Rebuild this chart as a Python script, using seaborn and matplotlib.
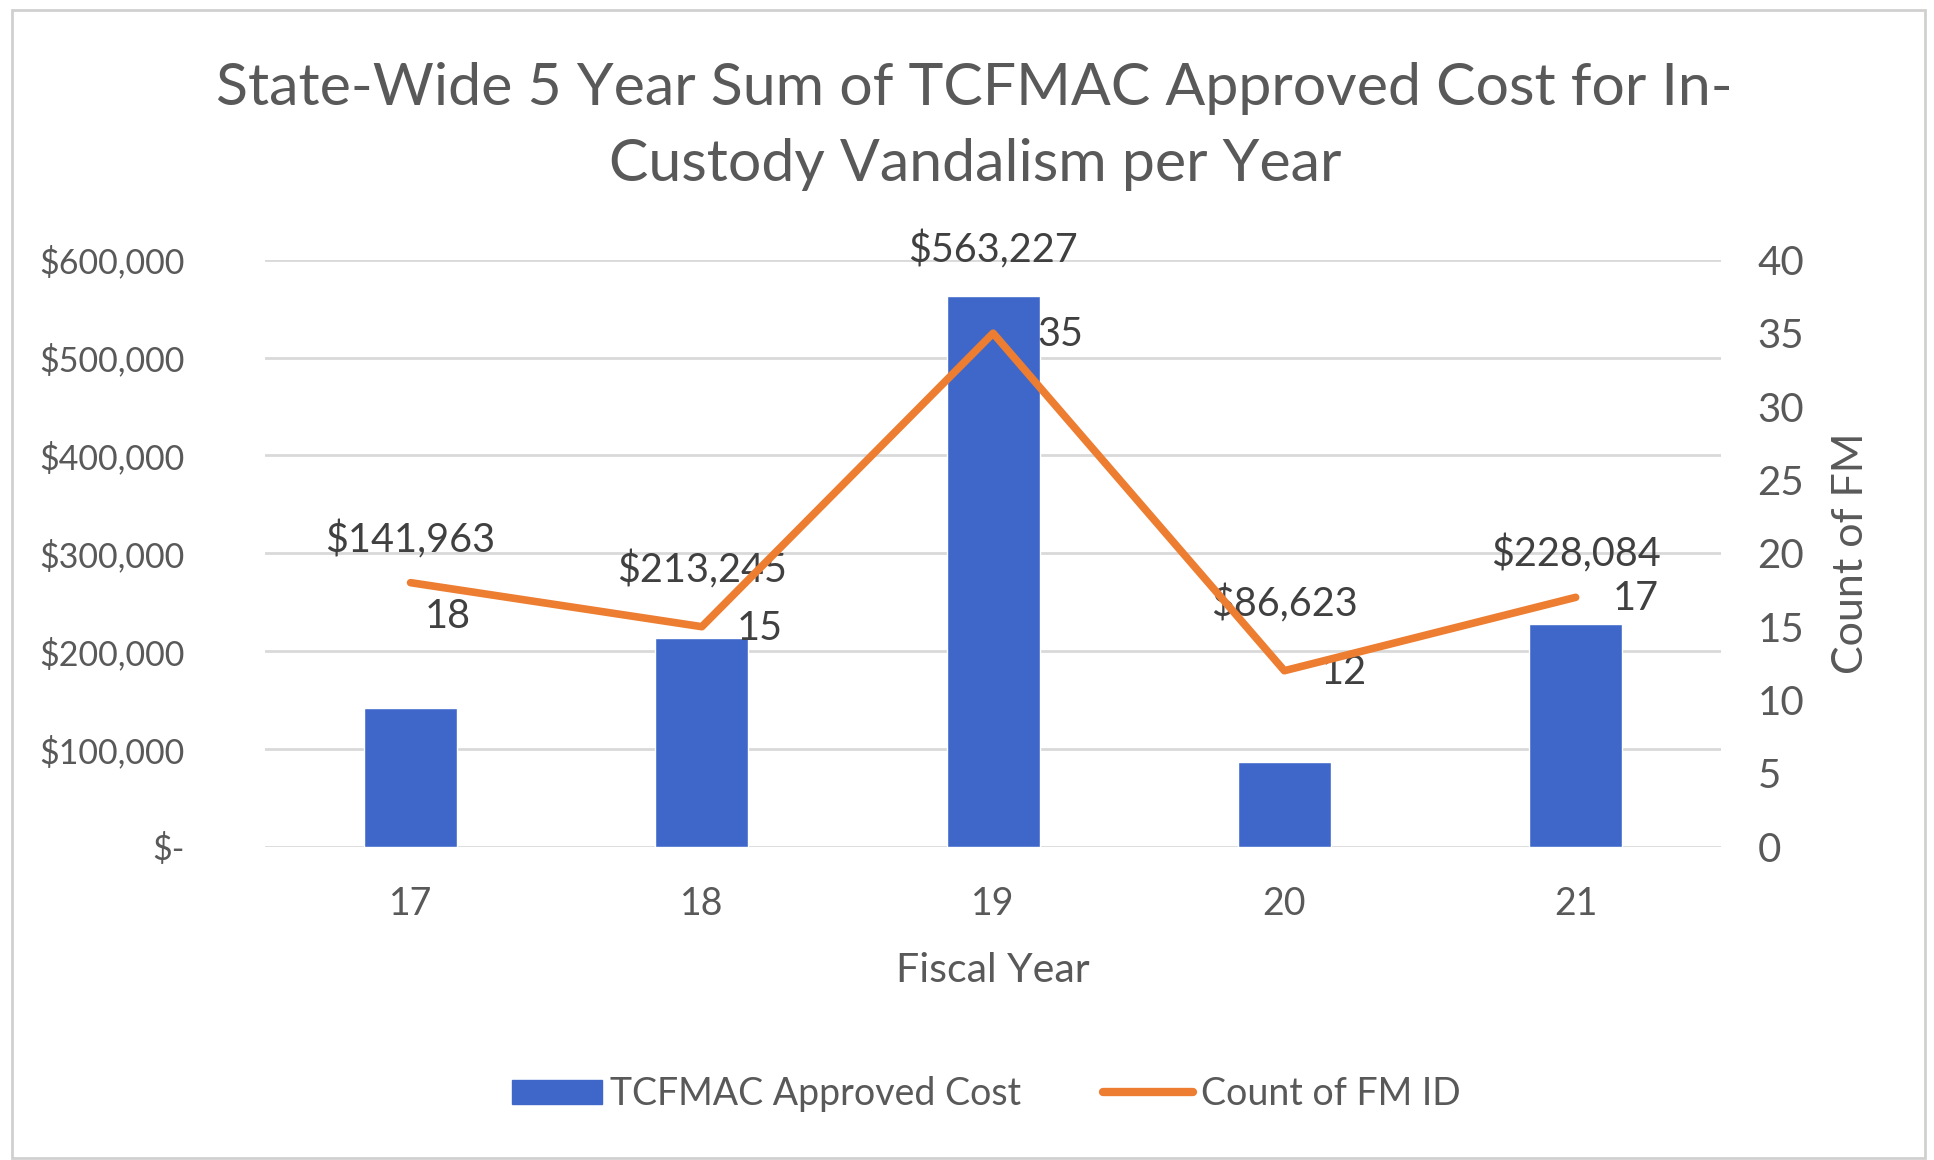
import matplotlib
matplotlib.use("Agg")
import matplotlib.pyplot as plt
import matplotlib.patches as mpatches
from matplotlib.lines import Line2D
from matplotlib.ticker import FuncFormatter, MultipleLocator
import pandas as pd
import seaborn as sns

# data
fiscal_years = ["17", "18", "19", "20", "21"]
approved_cost = [141963, 213245, 563227, 86623, 228084]
fm_count = [18, 15, 35, 12, 17]

# label offsets in points (style only)
cost_label_dy = [31, 41, 60, 48, 31]
count_label_dx = [27, 42, 48, 43, 43]
count_label_dy = [-24, -1, -1, -1, -1]

BLUE = "#3F67CA"
ORANGE = "#ED7D31"
GREY_TXT = "#595959"
GRID = "#D9D9D9"

sns.set_theme(style="white")
plt.rcParams["font.family"] = ["Lato", "DejaVu Sans"]

df = pd.DataFrame({"year": fiscal_years, "cost": approved_cost, "count": fm_count})

fig = plt.figure(figsize=(19.34, 11.6), dpi=100)
ax = fig.add_axes([0.137, 0.270, 0.753, 0.506])

sns.barplot(data=df, x="year", y="cost", color=BLUE, saturation=1, width=0.32, ax=ax)
ax.set_ylim(0, 600000)
ax.set_xlim(-0.5, 4.5)
ax.yaxis.set_major_locator(MultipleLocator(100000))
ax.yaxis.set_major_formatter(FuncFormatter(lambda v, p: "$-" if v == 0 else f"${v:,.0f}"))
ax.grid(axis="y", color=GRID, linewidth=2)
ax.set_axisbelow(True)
for s in ax.spines.values():
    s.set_visible(False)
ax.tick_params(axis="y", labelsize=24.5, labelcolor=GREY_TXT, length=0, pad=58)
ax.tick_params(axis="x", labelsize=27, labelcolor=GREY_TXT, length=0, pad=28)
ax.set_xlabel("Fiscal Year", fontsize=29.5, color=GREY_TXT, labelpad=22)
ax.set_ylabel("")

ax2 = ax.twinx()
sns.lineplot(data=df, x="year", y="count", sort=False, color=ORANGE, linewidth=5.5, ax=ax2,
             solid_joinstyle="round", solid_capstyle="round", zorder=3)
ax2.set_ylim(0, 40)
ax2.set_xlim(-0.5, 4.5)
ax2.yaxis.set_major_locator(MultipleLocator(5))
for s in ax2.spines.values():
    s.set_visible(False)
ax2.tick_params(axis="y", labelsize=29, labelcolor=GREY_TXT, length=0, pad=26)
ax2.set_ylabel("Count of FM", fontsize=31, color=GREY_TXT, labelpad=20)
ax2.grid(False)

for i, (c, n) in enumerate(zip(approved_cost, fm_count)):
    ax2.annotate(f"${c:,.0f}", (i, n), xytext=(0, cost_label_dy[i]), textcoords="offset points",
                 ha="center", va="center", fontsize=28.5, color="#404040", zorder=1)
    ax2.annotate(f"{n}", (i, n), xytext=(count_label_dx[i], count_label_dy[i]), textcoords="offset points",
                 ha="center", va="center", fontsize=28.5, color="#404040", zorder=1)

fig.text(0.504, 0.891, "State-Wide 5 Year Sum of TCFMAC Approved Cost for In-\nCustody Vandalism per Year",
         ha="center", va="center", fontsize=42.5, color=GREY_TXT, linespacing=1.55)

handles = [mpatches.Patch(color=BLUE, label="TCFMAC Approved Cost"),
           Line2D([0], [0], color=ORANGE, linewidth=6, solid_capstyle="round", label="Count of FM ID")]
fig.legend(handles=handles, loc="center", bbox_to_anchor=(0.51, 0.057), ncol=2, frameon=False,
           fontsize=27, labelcolor=GREY_TXT, handlelength=2.4, handleheight=0.6,
           handletextpad=0.2, columnspacing=2.2)

fig.patches.append(mpatches.Rectangle((12 / 1934, 0.002), 1913 / 1934, 0.989, transform=fig.transFigure,
                                      fill=False, edgecolor="#D0D0D0", linewidth=2))

fig.savefig("out.png", dpi=100)
